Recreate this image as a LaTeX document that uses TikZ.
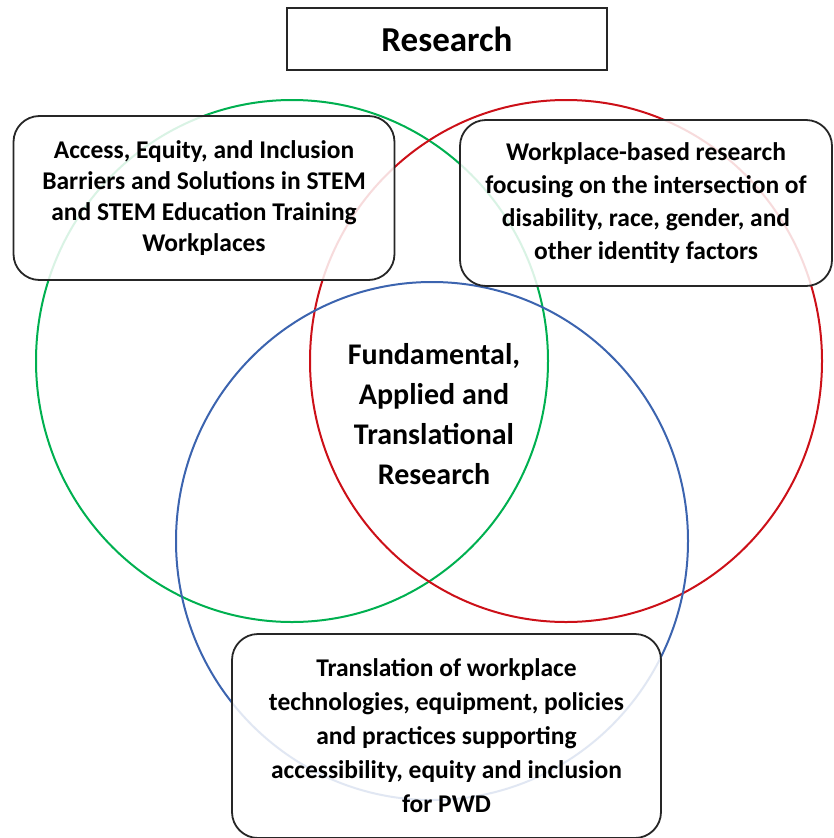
\documentclass[tikz,border=0pt]{standalone}
\usepackage{fontspec}
\setmainfont{Carlito}
\definecolor{vgreen}{RGB}{0,176,80}
\definecolor{vred}{RGB}{204,16,24}
\definecolor{vblue}{RGB}{60,100,175}
\newcommand{\drawring}[5][]{%
\draw[line width=2pt,#1] (#2,#3) ellipse[x radius=#4pt,y radius=#5pt]; 
}

\begin{document}
\begin{tikzpicture}[x=1pt,y=-1pt]

\useasboundingbox (0,0) rectangle (834,838);

% rings
\drawring[vgreen]{292}{361}{256}{261}
\drawring[vred]{566}{361}{256}{261}
\drawring[vblue]{432}{541}{256}{259}

\tikzstyle{areabox}=[draw=black!85,line width=1.8pt,rounded corners=26pt,fill=white,fill opacity=0.85,text opacity=1,align=center,inner sep=0pt,font=\bfseries\fontsize{25.5}{31}\selectfont]

% title
\node[draw=black!85,line width=1.5pt,minimum width=320pt,minimum height=62pt,font=\bfseries\fontsize{35}{40}\selectfont] (title) at (447,39) {Research};

% boxes
\node[areabox,minimum width=381pt,minimum height=164pt] (access) at (204,198) {Access, Equity, and Inclusion\\Barriers and Solutions in STEM\\and STEM Education Training\\Workplaces};

\node[areabox,minimum width=372pt,minimum height=166pt,font=\bfseries\fontsize{25.5}{33}\selectfont] (workplace) at (646,203) {Workplace-based research\\focusing on the intersection of\\disability, race, gender, and\\other identity factors};

\node[areabox,minimum width=429pt,minimum height=204pt,font=\bfseries\fontsize{25.5}{34}\selectfont] (translation) at (446.5,736) {Translation of workplace\\technologies, equipment, policies\\and practices supporting\\accessibility, equity and inclusion\\for PWD};

% centre
\node[align=center,font=\bfseries\fontsize{30}{40}\selectfont] (core) at (434,414) {Fundamental,\\Applied and\\Translational\\Research};

\end{tikzpicture}
\end{document}
